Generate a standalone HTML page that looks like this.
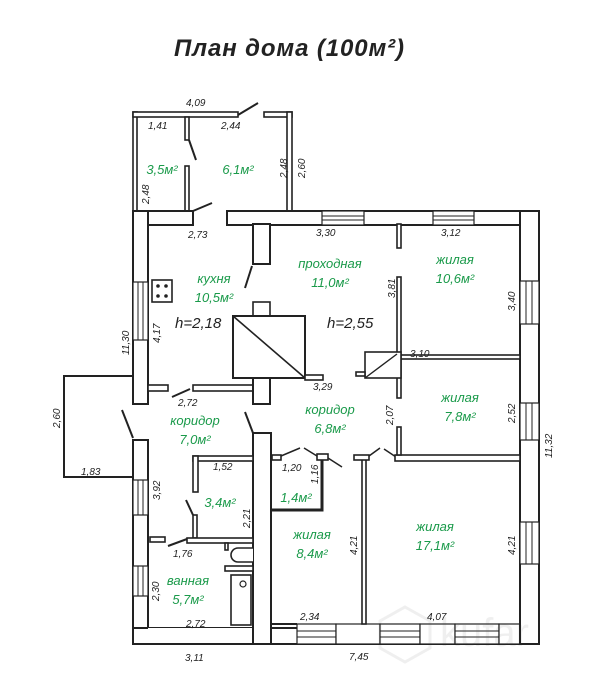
<!DOCTYPE html>
<html><head><meta charset="utf-8"><style>
html,body{margin:0;padding:0;background:#fff;}
svg{display:block;}
.w{fill:#fff;stroke:#222;stroke-width:2;}
.t{fill:#fff;stroke:#222;stroke-width:1.6;}
.d{stroke:#222;stroke-width:2;fill:none;}
.win{stroke:#222;stroke-width:1.2;fill:#fff;}
.dim{font-family:"Liberation Sans",sans-serif;font-style:italic;font-size:10px;fill:#222;}
.g{font-family:"Liberation Sans",sans-serif;font-style:italic;font-size:13px;fill:#1a9a4a;text-anchor:middle;}
.h{font-family:"Liberation Sans",sans-serif;font-style:italic;font-size:15px;fill:#222;}
</style></head><body>
<svg width="604" height="690" viewBox="0 0 604 690" xmlns="http://www.w3.org/2000/svg">
<text x="289" y="56" font-family="Liberation Sans, sans-serif" font-style="italic" font-weight="bold" font-size="24" fill="#222" text-anchor="middle" textLength="230">План дома (100м²)</text>

<!-- porch -->
<rect class="t" x="133" y="112" width="4" height="100"/>
<rect class="t" x="133" y="112" width="105" height="5"/>
<rect class="t" x="264" y="112" width="28" height="5"/>
<rect class="t" x="287" y="112" width="5" height="100"/>
<rect class="t" x="185" y="117" width="4" height="23"/>
<rect class="t" x="185" y="166" width="4" height="45"/>
<line class="d" x1="238" y1="115" x2="258" y2="103"/>
<line class="d" x1="189" y1="140" x2="196" y2="160"/>
<line class="d" x1="193" y1="211" x2="212" y2="203"/>

<!-- top walls -->
<rect class="w" x="133" y="211" width="60" height="14"/>
<rect class="w" x="227" y="211" width="312" height="14"/>
<rect class="win" x="322" y="211" width="42" height="14"/>
<line class="d" x1="322" y1="216" x2="364" y2="216" style="stroke-width:1"/>
<line class="d" x1="322" y1="220" x2="364" y2="220" style="stroke-width:1"/>
<rect class="win" x="433" y="211" width="41" height="14"/>
<line class="d" x1="433" y1="216" x2="474" y2="216" style="stroke-width:1"/>
<line class="d" x1="433" y1="220" x2="474" y2="220" style="stroke-width:1"/>

<!-- left wall -->
<rect class="w" x="133" y="211" width="15" height="193"/>
<rect class="win" x="133" y="282" width="15" height="58"/>
<line class="d" x1="138" y1="282" x2="138" y2="340" style="stroke-width:1"/>
<line class="d" x1="143" y1="282" x2="143" y2="340" style="stroke-width:1"/>
<rect class="w" x="133" y="440" width="15" height="204"/>
<rect class="win" x="133" y="480" width="15" height="35"/>
<line class="d" x1="138" y1="480" x2="138" y2="515" style="stroke-width:1"/>
<line class="d" x1="143" y1="480" x2="143" y2="515" style="stroke-width:1"/>
<rect class="win" x="133" y="566" width="15" height="30"/>
<line class="d" x1="138" y1="566" x2="138" y2="596" style="stroke-width:1"/>
<line class="d" x1="143" y1="566" x2="143" y2="596" style="stroke-width:1"/>
<line class="d" x1="122" y1="410" x2="133" y2="438"/>
<!-- extension -->
<polyline points="133,376 64,376 64,477 133,477" fill="none" stroke="#222" stroke-width="2"/>

<!-- bottom wall -->
<rect class="w" x="133" y="628" width="406" height="16"/>
<rect class="w" x="148" y="628" width="105" height="2" style="stroke:none"/>
<rect class="win" x="297" y="624" width="39" height="20"/>
<line class="d" x1="297" y1="631" x2="336" y2="631" style="stroke-width:1"/>
<line class="d" x1="297" y1="637" x2="336" y2="637" style="stroke-width:1"/>
<rect class="win" x="336" y="624" width="44" height="20"/>
<rect class="win" x="380" y="624" width="40" height="20"/>
<line class="d" x1="380" y1="631" x2="420" y2="631" style="stroke-width:1"/>
<line class="d" x1="380" y1="637" x2="420" y2="637" style="stroke-width:1"/>
<rect class="win" x="420" y="624" width="35" height="20"/>
<rect class="win" x="455" y="624" width="44" height="20"/>
<line class="d" x1="455" y1="631" x2="499" y2="631" style="stroke-width:1"/>
<line class="d" x1="455" y1="637" x2="499" y2="637" style="stroke-width:1"/>
<rect class="win" x="499" y="624" width="21" height="20"/>
<line x1="271" y1="624" x2="297" y2="624" stroke="#222" stroke-width="2"/>

<!-- right wall -->
<rect class="w" x="520" y="211" width="19" height="433"/>
<rect x="521" y="212" width="17" height="12" fill="#fff"/>
<rect class="win" x="520" y="281" width="19" height="43"/>
<line class="d" x1="526" y1="281" x2="526" y2="324" style="stroke-width:1"/>
<line class="d" x1="532" y1="281" x2="532" y2="324" style="stroke-width:1"/>
<rect class="win" x="520" y="403" width="19" height="37"/>
<line class="d" x1="526" y1="403" x2="526" y2="440" style="stroke-width:1"/>
<line class="d" x1="532" y1="403" x2="532" y2="440" style="stroke-width:1"/>
<rect class="win" x="520" y="522" width="19" height="42"/>
<line class="d" x1="526" y1="522" x2="526" y2="564" style="stroke-width:1"/>
<line class="d" x1="532" y1="522" x2="532" y2="564" style="stroke-width:1"/>

<!-- kitchen / passage T wall -->
<rect class="w" x="253" y="224" width="17" height="40"/>
<line class="d" x1="252" y1="266" x2="245" y2="288"/>
<!-- stove -->
<rect class="t" x="253" y="302" width="17" height="14"/>
<rect class="w" x="233" y="316" width="72" height="62"/>
<line class="d" x1="233" y1="316" x2="305" y2="378" style="stroke-width:1.6"/>
<rect class="t" x="305" y="375" width="18" height="5"/>
<!-- hob -->
<rect class="t" x="152" y="280" width="20" height="22"/>
<circle cx="158" cy="286" r="1.8" fill="#222"/><circle cx="166" cy="286" r="1.8" fill="#222"/>
<circle cx="158" cy="296" r="1.8" fill="#222"/><circle cx="166" cy="296" r="1.8" fill="#222"/>

<!-- kitchen bottom -->
<rect class="t" x="148" y="385" width="20" height="6"/>
<rect class="t" x="193" y="385" width="60" height="6"/>
<rect class="w" x="253" y="378" width="17" height="26"/>
<line class="d" x1="172" y1="397" x2="190" y2="389"/>

<!-- corridor right thick wall -->
<rect class="w" x="253" y="433" width="18" height="211"/>
<line class="d" x1="245" y1="412" x2="253" y2="433"/>

<!-- small room 3.4 -->
<rect class="t" x="193" y="456" width="60" height="5"/>
<rect class="t" x="193" y="456" width="5" height="36"/>
<rect class="t" x="193" y="515" width="4" height="23"/>
<line class="d" x1="186" y1="500" x2="193" y2="515"/>
<rect class="t" x="187" y="538" width="66" height="5"/>
<rect class="t" x="150" y="537" width="15" height="5"/>
<line class="d" x1="168" y1="546" x2="187" y2="539"/>
<!-- bathroom fixtures -->
<rect class="t" x="225" y="543" width="3" height="7"/>
<path d="M253,548 H238 A7,7 0 0 0 238,562 H253" class="t"/>
<rect class="t" x="225" y="566" width="28" height="5"/>
<rect class="t" x="231" y="575" width="20" height="50"/>
<circle cx="243" cy="584" r="3" fill="none" stroke="#222" stroke-width="1.2"/>

<!-- wardrobe 1.4 -->
<polyline points="272,510 322,510 322,458" fill="none" stroke="#222" stroke-width="3"/>
<polyline points="272,512 324,512 324,458" fill="none" stroke="#fff" stroke-width="0.8"/>
<rect class="t" x="272" y="455" width="9" height="5"/>
<rect class="t" x="317" y="454" width="11" height="6"/>
<line class="d" x1="281" y1="456" x2="300" y2="448" style="stroke-width:1.5"/>
<line class="d" x1="304" y1="448" x2="317" y2="456" style="stroke-width:1.5"/>
<line class="d" x1="328" y1="458" x2="342" y2="467" style="stroke-width:1.5"/>

<!-- 17.1 left thin wall -->
<rect class="t" x="362" y="458" width="4" height="166"/>
<rect class="t" x="354" y="455" width="15" height="5"/>
<line class="d" x1="369" y1="456" x2="380" y2="448" style="stroke-width:1.5"/>
<line class="d" x1="384" y1="449" x2="396" y2="457" style="stroke-width:1.5"/>
<rect class="t" x="395" y="455" width="125" height="6"/>

<!-- partition 10.6 / passage -->
<rect class="t" x="397" y="224" width="4" height="24"/>
<rect class="t" x="397" y="277" width="4" height="121"/>
<rect class="t" x="401" y="355" width="119" height="4"/>
<rect class="t" x="365" y="352" width="36" height="26"/>
<line class="d" x1="365" y1="378" x2="397" y2="354" style="stroke-width:1.4"/>
<rect class="t" x="356" y="372" width="9" height="4"/>
<rect class="t" x="397" y="427" width="4" height="28"/>

<!-- dimensions -->
<text class="dim" x="186" y="106">4,09</text>
<text class="dim" x="148" y="129">1,41</text>
<text class="dim" x="221" y="129">2,44</text>
<text class="dim" x="188" y="238">2,73</text>
<text class="dim" x="316" y="236">3,30</text>
<text class="dim" x="441" y="236">3,12</text>
<text class="dim" x="410" y="357">3,10</text>
<text class="dim" x="313" y="390">3,29</text>
<text class="dim" x="178" y="406">2,72</text>
<text class="dim" x="81" y="475">1,83</text>
<text class="dim" x="213" y="470">1,52</text>
<text class="dim" x="282" y="471">1,20</text>
<text class="dim" x="173" y="557">1,76</text>
<text class="dim" x="186" y="627">2,72</text>
<text class="dim" x="300" y="620">2,34</text>
<text class="dim" x="427" y="620">4,07</text>
<text class="dim" x="185" y="661">3,11</text>
<text class="dim" x="349" y="660">7,45</text>
<g class="dim">
<text transform="translate(287,178) rotate(-90)">2,48</text>
<text transform="translate(305,178) rotate(-90)">2,60</text>
<text transform="translate(149,204) rotate(-90)">2,48</text>
<text transform="translate(129,355) rotate(-90)">11,30</text>
<text transform="translate(160,343) rotate(-90)">4,17</text>
<text transform="translate(395,298) rotate(-90)">3,81</text>
<text transform="translate(515,311) rotate(-90)">3,40</text>
<text transform="translate(393,425) rotate(-90)">2,07</text>
<text transform="translate(515,423) rotate(-90)">2,52</text>
<text transform="translate(552,458) rotate(-90)">11,32</text>
<text transform="translate(60,428) rotate(-90)">2,60</text>
<text transform="translate(160,500) rotate(-90)">3,92</text>
<text transform="translate(250,528) rotate(-90)">2,21</text>
<text transform="translate(318,484) rotate(-90)">1,16</text>
<text transform="translate(159,601) rotate(-90)">2,30</text>
<text transform="translate(357,555) rotate(-90)">4,21</text>
<text transform="translate(515,555) rotate(-90)">4,21</text>
</g>

<!-- room labels -->
<text class="g" x="162" y="174">3,5м²</text>
<text class="g" x="238" y="174">6,1м²</text>
<text class="g" x="214" y="283">кухня</text>
<text class="g" x="214" y="302">10,5м²</text>
<text class="g" x="330" y="268">проходная</text>
<text class="g" x="330" y="287">11,0м²</text>
<text class="g" x="455" y="264">жилая</text>
<text class="g" x="455" y="283">10,6м²</text>
<text class="h" x="175" y="328">h=2,18</text>
<text class="h" x="327" y="328">h=2,55</text>
<text class="g" x="195" y="425">коридор</text>
<text class="g" x="195" y="444">7,0м²</text>
<text class="g" x="330" y="414">коридор</text>
<text class="g" x="330" y="433">6,8м²</text>
<text class="g" x="460" y="402">жилая</text>
<text class="g" x="460" y="421">7,8м²</text>
<text class="g" x="220" y="507">3,4м²</text>
<text class="g" x="296" y="502">1,4м²</text>
<text class="g" x="312" y="539">жилая</text>
<text class="g" x="312" y="558">8,4м²</text>
<text class="g" x="435" y="531">жилая</text>
<text class="g" x="435" y="550">17,1м²</text>
<text class="g" x="188" y="585">ванная</text>
<text class="g" x="188" y="604">5,7м²</text>

<!-- watermark -->
<g opacity="0.08" stroke="#444" fill="none" stroke-width="3">
<polygon points="405,607 430,621 430,648 405,662 380,648 380,621"/>
<text x="440" y="646" font-family="Liberation Sans,sans-serif" font-size="40" fill="#444" stroke="none">kufar</text>
</g>
</svg>
</body></html>
